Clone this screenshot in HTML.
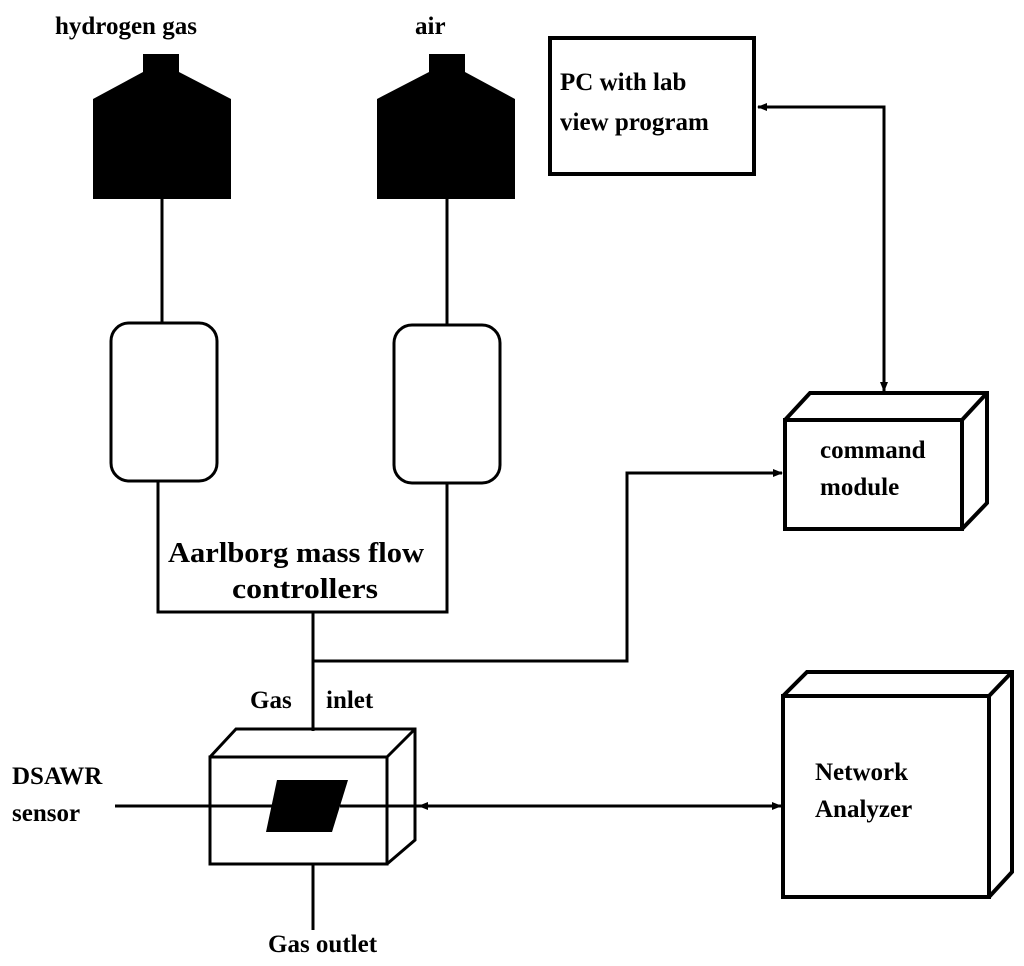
<!DOCTYPE html>
<html><head><style>
body{margin:0;background:#fff;}
svg text{font-family:"Liberation Serif",serif;font-weight:bold;font-size:25px;fill:#000;}
</style></head><body>
<svg width="1024" height="961" viewBox="0 0 1024 961" xmlns="http://www.w3.org/2000/svg">
<defs>
<marker id="a" markerWidth="10" markerHeight="8" refX="9" refY="4" orient="auto" markerUnits="userSpaceOnUse"><path d="M0,0 L10,4 L0,8 Z" fill="#000"/></marker>
</defs>
<g fill="#000">
<path d="M143,54 H179 V72 L231,99 V199 H93 V99 L143,72 Z"/>
<path d="M429,54 H465 V72 L515,99 V199 H377 V99 L429,72 Z"/>
</g>
<g stroke="#000" stroke-width="3" fill="none">
<line x1="162" y1="199" x2="162" y2="323"/>
<line x1="447" y1="199" x2="447" y2="325"/>
<rect x="111" y="323" width="106" height="158" rx="18"/>
<rect x="394" y="325" width="106" height="158" rx="18"/>
<polyline points="158,481 158,612 447,612 447,483"/>
<line x1="313" y1="612" x2="313" y2="731"/>
<polyline points="313,661 627,661 627,473 782,473" marker-end="url(#a)"/>
<rect x="550" y="38" width="204" height="136" stroke-width="4"/>
<polyline points="884,390 884,107 758,107" marker-end="url(#a)"/>
<line x1="884" y1="300" x2="884" y2="391" marker-end="url(#a)"/>
<g stroke-width="4">
<rect x="785" y="420" width="177" height="109"/>
<polyline points="785,420 810,393 987,393 987,503 962,529"/>
<line x1="962" y1="420" x2="987" y2="393"/>
</g>
<g stroke-width="4">
<rect x="783" y="696" width="206" height="201"/>
<polyline points="783,696 807,672 1012,672 1012,872 989,897"/>
<line x1="989" y1="696" x2="1012" y2="672"/>
</g>
<rect x="210" y="757" width="177" height="107"/>
<polyline points="210,757 236,729 415,729 415,840 387,864"/>
<line x1="387" y1="757" x2="415" y2="729"/>
<line x1="115" y1="806" x2="275" y2="806"/>
<line x1="600" y1="806" x2="419" y2="806" marker-end="url(#a)"/>
<line x1="340" y1="806" x2="781" y2="806" marker-end="url(#a)"/>
<line x1="313" y1="864" x2="313" y2="930"/>
</g>
<path d="M277,780 H348 L332,832 H266 Z" fill="#000"/>
<text x="55" y="34">hydrogen gas</text>
<text x="415" y="34">air</text>
<text x="560" y="90">PC with lab</text>
<text x="560" y="130">view program</text>
<text x="820" y="458">command</text>
<text x="820" y="495">module</text>
<text x="168" y="562" style="font-size:28px" textLength="256" lengthAdjust="spacingAndGlyphs">Aarlborg mass flow</text>
<text x="232" y="598" style="font-size:28px" textLength="146" lengthAdjust="spacingAndGlyphs">controllers</text>
<text x="250" y="708">Gas</text>
<text x="326" y="708">inlet</text>
<text x="12" y="784">DSAWR</text>
<text x="12" y="821">sensor</text>
<text x="815" y="780">Network</text>
<text x="815" y="817">Analyzer</text>
<text x="268" y="952">Gas outlet</text>
</svg>
</body></html>
